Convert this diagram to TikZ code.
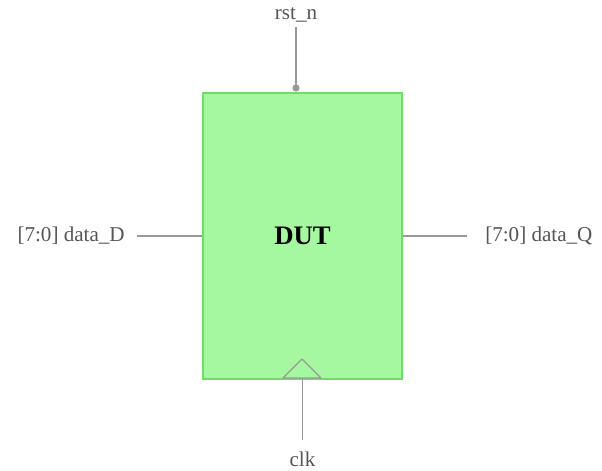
\documentclass[tikz,border=0pt]{standalone}
\usepackage{fontspec}
\setmainfont{Liberation Serif}
\usetikzlibrary{positioning}
\definecolor{DUTFill}{HTML}{A5F7A0}
\definecolor{DUTEdge}{HTML}{6EDC66}
\definecolor{WireGray}{HTML}{999999}
\definecolor{PortText}{HTML}{555555}

\begin{document}
\begin{tikzpicture}[
  node distance=0.3cm and 0.3cm,
  block/.style={draw=DUTEdge, fill=DUTFill, line width=0.9pt, minimum width=4.975cm, minimum height=7.15cm, font=\fontsize{19}{22}\selectfont\bfseries},
  port/.style={text=PortText, font=\fontsize{15}{17}\selectfont, inner sep=0pt},
  wire/.style={draw=WireGray, line width=0.9pt}
]
\useasboundingbox (-7.5625,-5.85) rectangle (7.4875,5.9);
\node[block] (dut) at (0,0) {DUT};
% reset on top
\coordinate (rstdot) at (-0.1625,3.7);
\coordinate (rsttop) at (-0.1625,5.225);
\node[port, above=0.1cm of rsttop] (rst) {rst\_n};
\draw[wire] (rsttop) -- (rstdot);
\fill[WireGray] (rstdot) circle (0.09cm);
% clock at bottom
\coordinate (clkin) at (0,-3.575);
\coordinate (clkbot) at (0,-5.1);
\node[port, below=0.3cm of clkbot] (clk) {clk};
\draw[wire] (clkbot) -- (clkin);
\draw[wire, line join=round] (-0.49,-3.55) -- (-0.0125,-3.075) -- (0.46,-3.55) -- cycle;
% data ports
\coordinate (din) at (-4.1375,0);
\coordinate (dout) at (4.1125,0);
\node[port, left=0.3cm of din, anchor=east] (dataD) {[7:0] data\_D};
\node[port, right=0.45cm of dout, anchor=west] (dataQ) {[7:0] data\_Q};
\draw[wire] (din) -- (dut.west);
\draw[wire] (dut.east) -- (dout);
\end{tikzpicture}
\end{document}
